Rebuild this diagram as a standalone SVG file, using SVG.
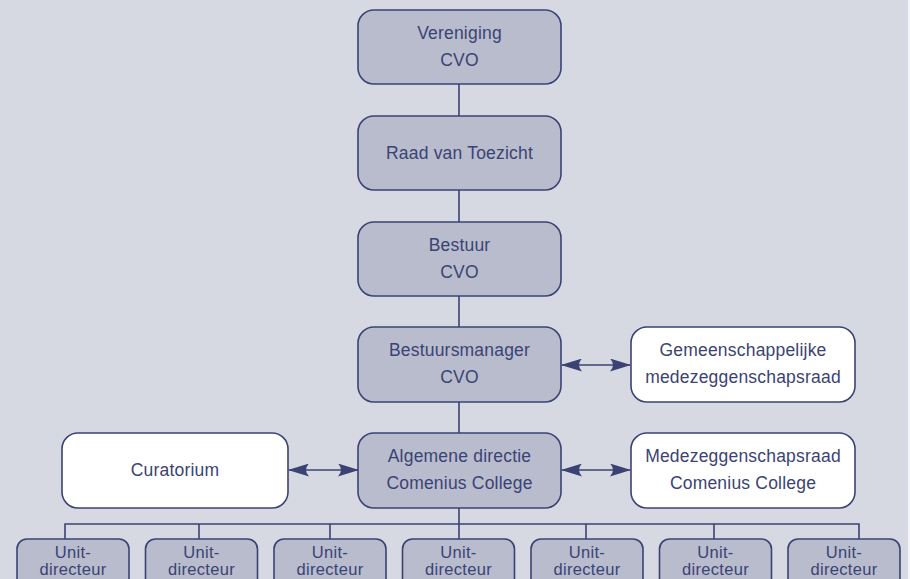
<svg xmlns="http://www.w3.org/2000/svg" width="910" height="579" viewBox="0 0 910 579">
<defs>
<style>
.bx{fill:#b8bccd;stroke:#3b4374;stroke-width:1.6}
.wb{fill:#ffffff;stroke:#3b4374;stroke-width:1.6}
.t{font-family:"Liberation Sans",Arial,sans-serif;font-size:17.5px;fill:#3b4374;text-anchor:middle;letter-spacing:0.2px}
.u{font-family:"Liberation Sans",Arial,sans-serif;font-size:16.5px;fill:#3b4374;text-anchor:middle;letter-spacing:0.3px}
.ln{stroke:#3b4374;stroke-width:1.6;fill:none}
</style>
<marker id="ah" viewBox="0 0 21 13" refX="20" refY="6.5" markerWidth="21" markerHeight="13" markerUnits="userSpaceOnUse" orient="auto-start-reverse">
<path d="M0,0 L21,6.5 L0,13 Q6,6.5 0,0 z" fill="#3b4374"/>
</marker>
</defs>
<rect x="0" y="0" width="910" height="579" fill="#f4f5f8"/>
<rect x="0" y="0" width="908" height="579" fill="#d6d9e2"/>

<g id="connectors">
<line class="ln" x1="459" y1="84" x2="459" y2="116"/>
<line class="ln" x1="459" y1="190" x2="459" y2="222"/>
<line class="ln" x1="459" y1="296" x2="459" y2="327"/>
<line class="ln" x1="459" y1="402" x2="459" y2="433"/>
<line class="ln" x1="459" y1="508" x2="459" y2="539"/>
<polyline class="ln" points="65,539 65,524 859,524 859,539"/>
<line class="ln" x1="199" y1="524" x2="199" y2="539"/>
<line class="ln" x1="330" y1="524" x2="330" y2="539"/>
<line class="ln" x1="586" y1="524" x2="586" y2="539"/>
<line class="ln" x1="714" y1="524" x2="714" y2="539"/>
<line class="ln" x1="562" y1="365" x2="630" y2="365" marker-start="url(#ah)" marker-end="url(#ah)"/>
<line class="ln" x1="289" y1="470" x2="358" y2="470" marker-start="url(#ah)" marker-end="url(#ah)"/>
<line class="ln" x1="562" y1="470" x2="630" y2="470" marker-start="url(#ah)" marker-end="url(#ah)"/>
</g>

<g id="vereniging">
<rect class="bx" x="358" y="10" width="203" height="74" rx="16"/>
<text class="t" x="459.5" y="38.5">Vereniging</text>
<text class="t" x="459.5" y="65.5">CVO</text>
</g>
<g id="raad">
<rect class="bx" x="358" y="116" width="203" height="74" rx="16"/>
<text class="t" x="459.5" y="159">Raad van Toezicht</text>
</g>
<g id="bestuur">
<rect class="bx" x="358" y="222" width="203" height="74" rx="16"/>
<text class="t" x="459.5" y="250.5">Bestuur</text>
<text class="t" x="459.5" y="277.5">CVO</text>
</g>
<g id="bestuursmanager">
<rect class="bx" x="358" y="327" width="203" height="75" rx="16"/>
<text class="t" x="459.5" y="356">Bestuursmanager</text>
<text class="t" x="459.5" y="383">CVO</text>
</g>
<g id="gmr">
<rect class="wb" x="631" y="327" width="224" height="75" rx="16"/>
<text class="t" x="743" y="356">Gemeenschappelijke</text>
<text class="t" x="743" y="383">medezeggenschapsraad</text>
</g>
<g id="curatorium">
<rect class="wb" x="62" y="433" width="226" height="75" rx="16"/>
<text class="t" x="175" y="476">Curatorium</text>
</g>
<g id="algemene">
<rect class="bx" x="358" y="433" width="203" height="75" rx="16"/>
<text class="t" x="459.5" y="462">Algemene directie</text>
<text class="t" x="459.5" y="489">Comenius College</text>
</g>
<g id="mr">
<rect class="wb" x="631" y="433" width="224" height="75" rx="16"/>
<text class="t" x="743" y="462">Medezeggenschapsraad</text>
<text class="t" x="743" y="489">Comenius College</text>
</g>

<g id="unit1"><rect class="bx" x="17" y="539" width="112" height="60" rx="10"/><text class="u" x="73" y="558">Unit-</text><text class="u" x="73" y="575">directeur</text></g>
<g id="unit2"><rect class="bx" x="145.5" y="539" width="112" height="60" rx="10"/><text class="u" x="201.5" y="558">Unit-</text><text class="u" x="201.5" y="575">directeur</text></g>
<g id="unit3"><rect class="bx" x="274" y="539" width="112" height="60" rx="10"/><text class="u" x="330" y="558">Unit-</text><text class="u" x="330" y="575">directeur</text></g>
<g id="unit4"><rect class="bx" x="402.5" y="539" width="112" height="60" rx="10"/><text class="u" x="458.5" y="558">Unit-</text><text class="u" x="458.5" y="575">directeur</text></g>
<g id="unit5"><rect class="bx" x="531" y="539" width="112" height="60" rx="10"/><text class="u" x="587" y="558">Unit-</text><text class="u" x="587" y="575">directeur</text></g>
<g id="unit6"><rect class="bx" x="659.5" y="539" width="112" height="60" rx="10"/><text class="u" x="715.5" y="558">Unit-</text><text class="u" x="715.5" y="575">directeur</text></g>
<g id="unit7"><rect class="bx" x="788" y="539" width="112" height="60" rx="10"/><text class="u" x="844" y="558">Unit-</text><text class="u" x="844" y="575">directeur</text></g>
</svg>
